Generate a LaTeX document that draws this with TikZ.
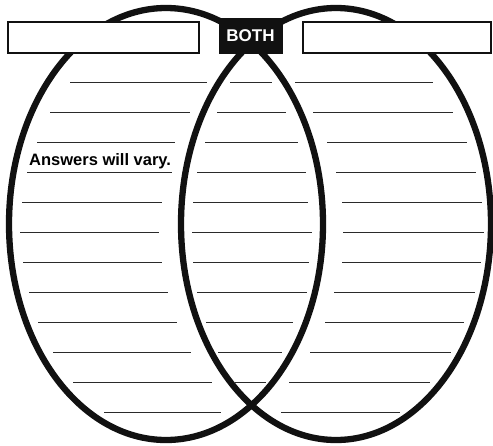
\documentclass[tikz,border=0pt]{standalone}
\usepackage{fontspec}
\usepackage{tikz}
\usetikzlibrary{positioning}
\newfontfamily\sheetfont{Liberation Sans}
\definecolor{SheetInk}{HTML}{111111}
\definecolor{SheetRule}{HTML}{2A2A2A}

\begin{document}
\begin{tikzpicture}[x=1pt,y=-1pt,
  ring/.style={SheetInk,line width=6.3pt},
  titlebox/.style={draw=SheetInk,fill=white,line width=2pt,inner sep=0pt},
  rule/.style={SheetRule,line width=1pt}]
  \useasboundingbox (0,0) rectangle (493,445);
  \draw[ring] (166,224) ellipse[x radius=157,y radius=216];
  \draw[ring] (336,224) ellipse[x radius=155,y radius=216];
  \foreach \y/\a/\b in {82/70/207,112/50/190,142/37/175,172/27/172,202/22/162,232/20/159,
                        262/23/162,292/29/168,322/38/177,352/53/191,382/73/212,412/104/221}
    \draw[rule] (\a,\y)--(\b,\y);
  \foreach \y/\a/\b in {82/230/272,112/217/286,142/205/298,172/197/306,202/193/308,232/192/312,
                        262/193/309,292/197/307,322/206/293,352/218/282,382/235/266}
    \draw[rule] (\a,\y)--(\b,\y);
  \foreach \y/\a/\b in {82/295/433,112/313/453,142/327/467,172/336/476,202/342/482,232/343/484,
                        262/342/481,292/334/475,322/325/464,352/310/451,382/289/430,412/281/400}
    \draw[rule] (\a,\y)--(\b,\y);
  \node[titlebox,minimum width=191pt,minimum height=31pt] (leftname) at (103.5,37.5) {};
  \node[titlebox,minimum width=188pt,minimum height=31pt] (rightname) at (397,37) {};
  \node[draw=SheetInk,fill=SheetInk,line width=1pt,minimum width=63pt,minimum height=35pt,inner sep=0pt,
        text=white,font=\sheetfont\bfseries\fontsize{17}{18}\selectfont] (both) at (250.5,35.5) {BOTH};
  \node[anchor=west,inner sep=0pt,font=\sheetfont\bfseries\fontsize{16.5}{18}\selectfont] (answer) at (29,161) {Answers will vary.};
\end{tikzpicture}
\end{document}
